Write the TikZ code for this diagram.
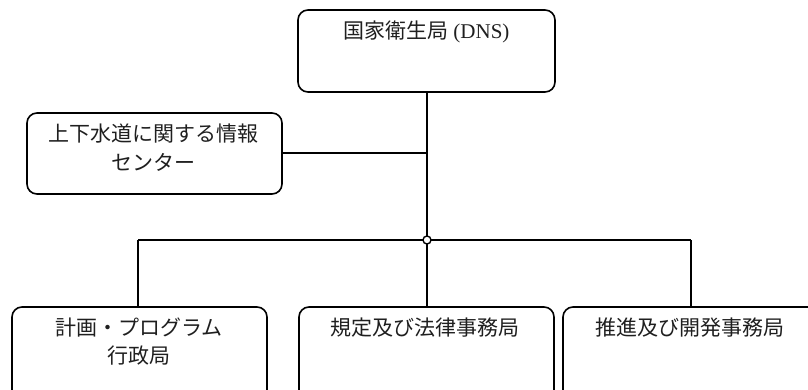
\documentclass[tikz,border=0pt]{standalone}
\usepackage{fontspec}
\setmainfont{Liberation Serif}
\newfontfamily\cjk{Noto Sans CJK JP}
\begin{document}
\begin{tikzpicture}[x=1pt,y=-1pt,
  box/.style={draw=black,line width=1.6pt,rounded corners=10pt},
  lbl/.style={anchor=base,inner sep=0pt,font=\fontsize{21}{28}\selectfont,text=black!88},
  conn/.style={draw=black,line width=1.6pt}]
\clip (0,0) rectangle (808,389);
\fill[white] (0,0) rectangle (808,389);
% boxes
\draw[box] (298,10) rectangle (555,92);
\coordinate (dnsS) at (427,92);
\draw[box] (27,113) rectangle (282,194);
\coordinate (infoE) at (282,153);
\draw[box] (12,307) rectangle (267,430);
\coordinate (b1N) at (138,307);
\draw[box] (299,307) rectangle (554,430);
\coordinate (b2N) at (427,307);
\draw[box] (563,307) rectangle (818,430);
\coordinate (b3N) at (691,307);
% texts
\node[lbl,anchor=base west] (dnsT) at (343,38) {{\cjk 国家衛生局} (DNS)};
\node[lbl] (infoT1) at (153,141) {\cjk 上下水道に関する情報};
\node[lbl] (infoT2) at (153,170) {\cjk センター};
\node[lbl] (b1T1) at (139,335) {\cjk 計画・プログラム};
\node[lbl] (b1T2) at (139,363) {\cjk 行政局};
\node[lbl] (b2T) at (425,335) {\cjk 規定及び法律事務局};
\node[lbl] (b3T) at (690,335) {\cjk 推進及び開発事務局};
% connectors
\coordinate (hub) at (427,153);
\coordinate (j) at (427,240);
\coordinate (jl) at (138,240);
\coordinate (jr) at (691,240);
\draw[conn] (dnsS) -- (j);
\draw[conn] (infoE) -- (hub);
\draw[conn] (jl) -- (jr);
\draw[conn] (jl) -- (b1N);
\draw[conn] (j) -- (b2N);
\draw[conn] (jr) -- (b3N);
\node[circle,draw=black,line width=1.4pt,fill=white,minimum size=8pt,inner sep=0pt] (jc) at (j) {};
\end{tikzpicture}
\end{document}
